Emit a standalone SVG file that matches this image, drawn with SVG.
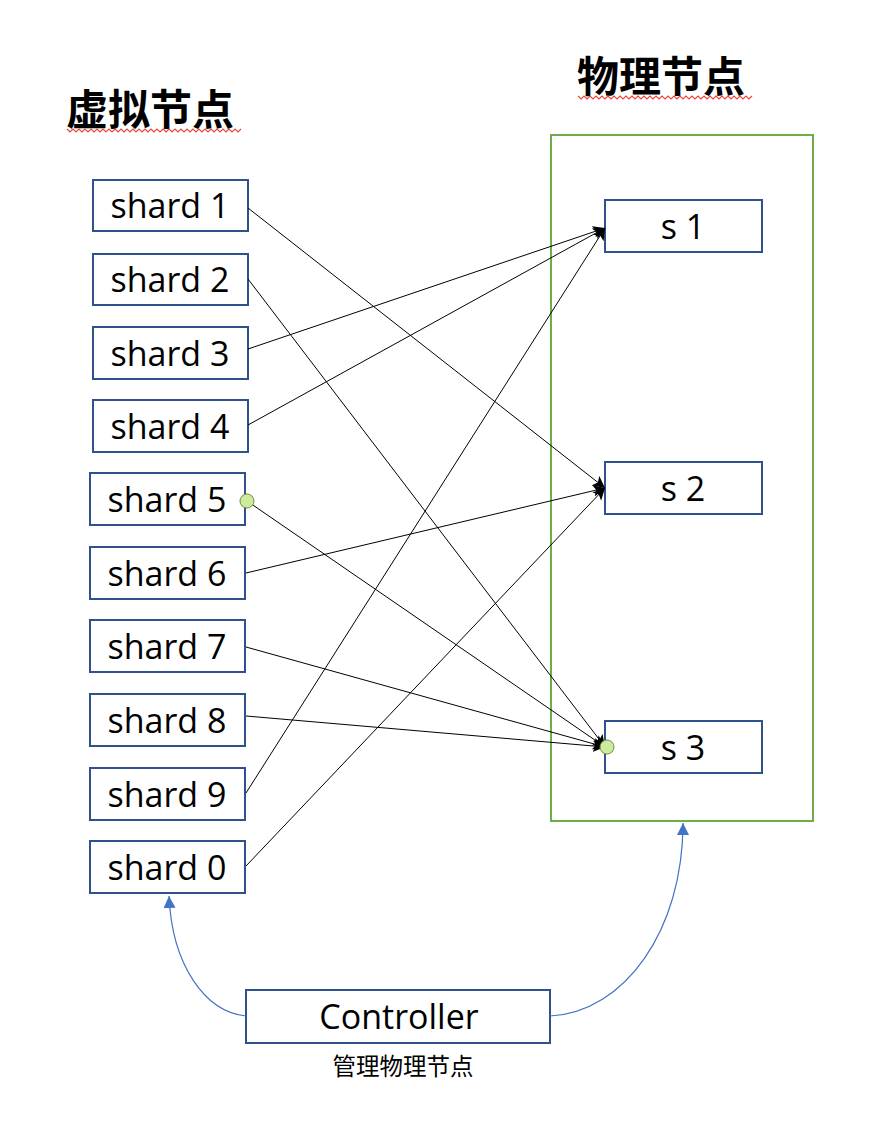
<svg xmlns="http://www.w3.org/2000/svg" width="884" height="1134" viewBox="0 0 884 1134">
<style>
.box{fill:#fff;stroke:#2F528F;stroke-width:2}
.t{font-family:"Open Sans","Liberation Sans",sans-serif;font-size:34px;fill:#000;text-anchor:middle}
.h{font-family:"Noto Sans CJK SC",sans-serif;font-size:42px;font-weight:bold;fill:#000}
.c{stroke:#000;stroke-width:1;fill:none;marker-end:url(#ah)}
.b{stroke:#4472C4;stroke-width:1.2;fill:none;marker-end:url(#bh)}
.sq{stroke:#E8483A;stroke-width:1.2;fill:none}
.dot{fill:#CDEB9C;stroke:#6F8F3A;stroke-width:1}
</style>
<defs>
<marker id="ah" markerUnits="userSpaceOnUse" markerWidth="14" markerHeight="14" refX="12" refY="6" orient="auto"><path d="M0,0 L12,6 L0,12 L3,6 Z" fill="#000"/></marker>
<marker id="bh" markerUnits="userSpaceOnUse" markerWidth="14" markerHeight="14" refX="12" refY="6" orient="auto"><path d="M0,0 L12,6 L0,12 Z" fill="#4472C4"/></marker>
</defs>
<rect width="884" height="1134" fill="#fff"/>
<text class="h" x="66" y="125">虚拟节点</text>
<path class="sq" d="M67,129 l3,3 l3,-3 l3,3 l3,-3 l3,3 l3,-3 l3,3 l3,-3 l3,3 l3,-3 l3,3 l3,-3 l3,3 l3,-3 l3,3 l3,-3 l3,3 l3,-3 l3,3 l3,-3 l3,3 l3,-3 l3,3 l3,-3 l3,3 l3,-3 l3,3 l3,-3 l3,3 l3,-3 l3,3 l3,-3 l3,3 l3,-3 l3,3 l3,-3 l3,3 l3,-3 l3,3 l3,-3 l3,3 l3,-3 l3,3 l3,-3 l3,3 l3,-3 l3,3 l3,-3 l3,3 l3,-3 l3,3 l3,-3 l3,3 l3,-3 l3,3 l3,-3 l3,3 l3,-3"/>
<text class="h" x="577" y="92">物理节点</text>
<path class="sq" d="M578,96 l3,3 l3,-3 l3,3 l3,-3 l3,3 l3,-3 l3,3 l3,-3 l3,3 l3,-3 l3,3 l3,-3 l3,3 l3,-3 l3,3 l3,-3 l3,3 l3,-3 l3,3 l3,-3 l3,3 l3,-3 l3,3 l3,-3 l3,3 l3,-3 l3,3 l3,-3 l3,3 l3,-3 l3,3 l3,-3 l3,3 l3,-3 l3,3 l3,-3 l3,3 l3,-3 l3,3 l3,-3 l3,3 l3,-3 l3,3 l3,-3 l3,3 l3,-3 l3,3 l3,-3 l3,3 l3,-3 l3,3 l3,-3 l3,3 l3,-3 l3,3 l3,-3 l3,3 l3,-3"/>
<g id="physical"><rect x="551" y="135" width="262" height="686" fill="none" stroke="#70AD47" stroke-width="2"/></g>
<g id="shard1"><rect class="box" x="93" y="180" width="155" height="51"/><text class="t" x="170" y="218">shard 1</text></g>
<g id="shard2"><rect class="box" x="93" y="254" width="155" height="51"/><text class="t" x="170" y="292">shard 2</text></g>
<g id="shard3"><rect class="box" x="93" y="327" width="155" height="52"/><text class="t" x="170" y="366">shard 3</text></g>
<g id="shard4"><rect class="box" x="93" y="400" width="155" height="52"/><text class="t" x="170" y="439">shard 4</text></g>
<g id="shard5"><rect class="box" x="90" y="473" width="155" height="52"/><text class="t" x="167" y="512">shard 5</text></g>
<g id="shard6"><rect class="box" x="90" y="547" width="155" height="52"/><text class="t" x="167" y="586">shard 6</text></g>
<g id="shard7"><rect class="box" x="90" y="620" width="155" height="52"/><text class="t" x="167" y="659">shard 7</text></g>
<g id="shard8"><rect class="box" x="90" y="694" width="155" height="52"/><text class="t" x="167" y="733">shard 8</text></g>
<g id="shard9"><rect class="box" x="90" y="768" width="155" height="52"/><text class="t" x="167" y="807">shard 9</text></g>
<g id="shard0"><rect class="box" x="90" y="841" width="155" height="52"/><text class="t" x="167" y="880">shard 0</text></g>
<g id="s1"><rect class="box" x="605" y="200" width="157" height="52"/><text class="t" x="683" y="239">s 1</text></g>
<g id="s2"><rect class="box" x="605" y="462" width="157" height="52"/><text class="t" x="683" y="501">s 2</text></g>
<g id="s3"><rect class="box" x="605" y="721" width="157" height="52"/><text class="t" x="683" y="760">s 3</text></g>
<g id="controller"><rect class="box" x="246" y="990" width="304" height="53"/><text class="t" x="399" y="1029">Controller</text></g>
<text x="403" y="1075" font-family="Noto Sans CJK SC, sans-serif" font-size="23.5" text-anchor="middle" fill="#000">管理物理节点</text>
<g id="connectors">
<path class="c" d="M248,208 L605,488"/>
<path class="c" d="M248,279 L605,747"/>
<path class="c" d="M248,349 L605,228"/>
<path class="c" d="M248,425 L605,228"/>
<path class="c" d="M247,501 L605,747"/>
<path class="c" d="M246,573 L605,488"/>
<path class="c" d="M246,647 L605,747"/>
<path class="c" d="M246,716 L605,747"/>
<path class="c" d="M246,793 L605,228"/>
<path class="c" d="M246,866 L605,488"/>
<path class="b" d="M246,1016 C205,1012 172,965 169,896"/>
<path class="b" d="M550,1016 C625,1012 683,930 683,823"/>
<circle class="dot" cx="247" cy="501" r="7"/>
<circle class="dot" cx="607" cy="747" r="7"/>
</g>
</svg>
